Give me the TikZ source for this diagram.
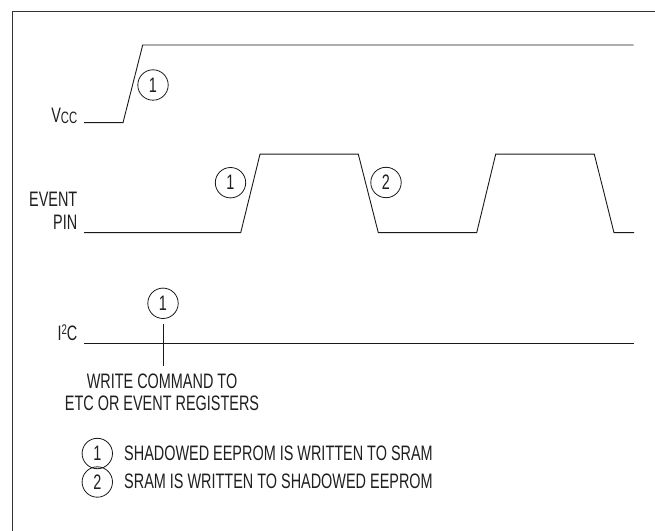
\documentclass[tikz,border=0pt]{standalone}
\usepackage{fontspec}
\setmainfont{Liberation Sans}[FakeStretch=0.69]

\begin{document}
\begin{tikzpicture}[x=1bp,y=-1bp,line cap=butt,line join=miter,
  wave/.style={line width=0.9bp,draw=black!90},
  frame/.style={line width=1.5bp,draw=black!80},
  lbl/.style={inner sep=0pt,text=black!88,font=\fontsize{21}{21.7}\selectfont},
  tag/.style={circle,draw=black!90,line width=0.8bp,minimum size=30.4bp,inner sep=0pt,
    text=black!88,font=\fontsize{21}{21.7}\selectfont}]
  \useasboundingbox (0,0) rectangle (655,531);
  \draw[frame] (12.7,531) -- (12.7,11.7) -- (655,11.7);
  % signal names
  \node[lbl,anchor=base east] (vcclbl) at (77.5,123) {V\raisebox{-0.5bp}{\fontsize{16.5}{16.5}\selectfont CC}};
  \node[lbl,anchor=base east] (evlbl) at (77.5,207) {EVENT};
  \node[lbl,anchor=base east] (pinlbl) at (77.5,229.5) {PIN};
  \node[lbl,anchor=base east] (i2clbl) at (77.5,340) {I\raisebox{6bp}{\fontsize{14}{14}\selectfont 2}C};
  % waveforms
  \draw[wave] (84,122.7) -- (123,122.7) -- (142.7,45) -- (633.5,45);
  \draw[wave] (84,232.7) -- (240.7,232.7) -- (260,154.2) -- (358.3,154.2) -- (378.3,232.7)
    -- (476.7,232.7) -- (495.7,154.2) -- (594.3,154.2) -- (614,232.7) -- (634,232.7);
  \draw[wave] (84,343.3) -- (633.5,343.3);
  % event tags
  \node[tag] (vccup) at (153,85) {1};
  \node[tag] (evup) at (230.5,182.7) {1};
  \node[tag] (evdown) at (386,182.5) {2};
  \node[tag] (i2cwr) at (163,303.3) {1};
  \coordinate (tickend) at (163,366);
  \draw[wave,shorten <=5.5bp] (i2cwr) -- (tickend);
  \node[lbl,anchor=base] (wrline1) at (162,388.3) {WRITE COMMAND TO};
  \node[lbl,anchor=base] (wrline2) at (162,410) {ETC OR EVENT REGISTERS};
  % legend
  \node[tag] (key1) at (97.3,453.5) {1};
  \node[tag] (key2) at (97.3,482) {2};
  \node[lbl,anchor=base west] (key1txt) at (124,460.7) {SHADOWED EEPROM IS WRITTEN TO SRAM};
  \node[lbl,anchor=base west] (key2txt) at (124,488.3) {SRAM IS WRITTEN TO SHADOWED EEPROM};
\end{tikzpicture}
\end{document}
